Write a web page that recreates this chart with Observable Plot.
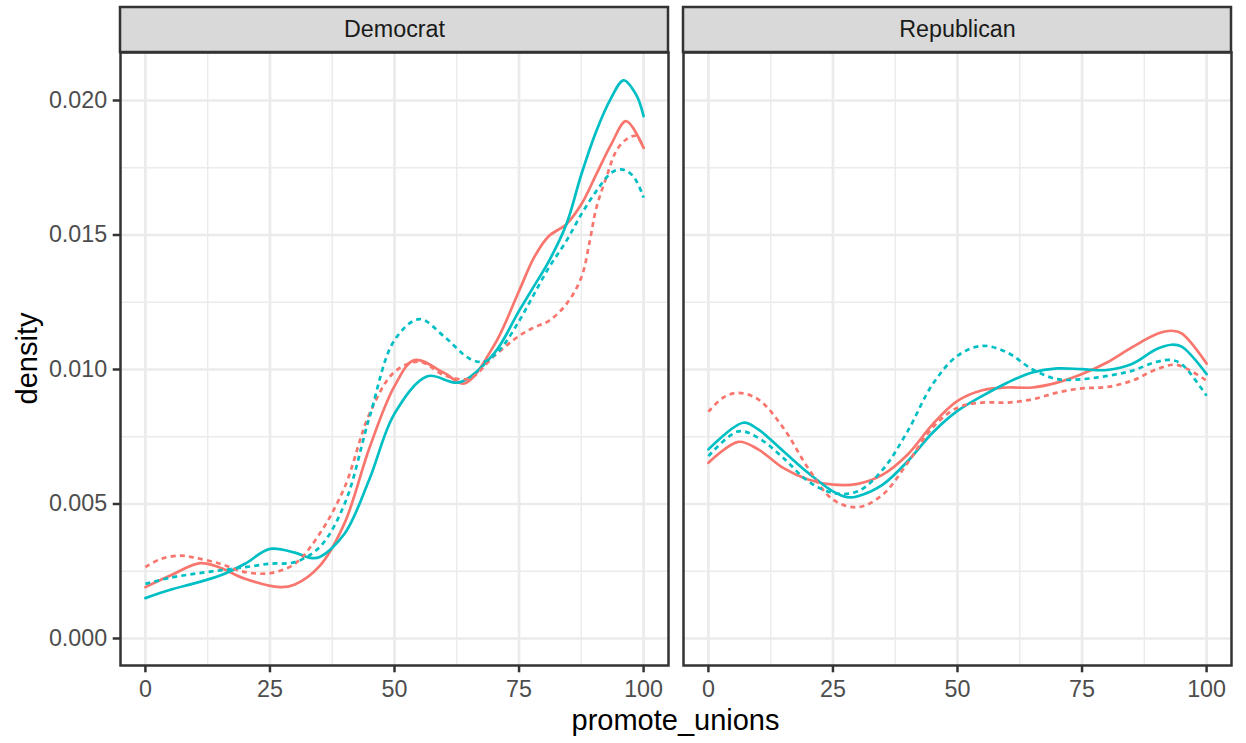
<!DOCTYPE html>
<html>
<head>
<meta charset="utf-8">
<script src="https://cdn.jsdelivr.net/npm/d3@7"></script>
<script src="https://cdn.jsdelivr.net/npm/@observablehq/plot@0.6"></script>
<style>
  html, body { margin: 0; padding: 0; background: #ffffff; overflow: hidden; }
</style>
</head>
<body>
<div id="chart"></div>
<script>
// ---------- data ----------
const parties = ["Democrat", "Republican"];
const colorGroups = ["group 1", "group 2"];
const lineTypes = ["solid", "dashed"];
const xTicks = [0, 25, 50, 75, 100];
const xMinorTicks = [12.5, 37.5, 62.5, 87.5];
const yTicks = [0, 0.005, 0.010, 0.015, 0.020];
const yMinorTicks = [0.0025, 0.0075, 0.0125, 0.0175];
const xTitle = "promote_unions";
const yTitle = "density";

// Democrat, group 1 (red), solid
const demRedSolidX = [0, 5, 11, 15, 20, 27, 30, 35, 40, 45, 50, 54, 60, 64, 70, 75, 78, 81, 84.5, 87.5, 90.5, 93.5, 96.5, 100];
const demRedSolidY = [0.00191, 0.00234, 0.00280, 0.00263, 0.00222, 0.00191, 0.00201, 0.00270, 0.00430, 0.00710, 0.00938, 0.01035, 0.00987, 0.00948, 0.01090, 0.01292, 0.01416, 0.01496, 0.01540, 0.01614, 0.01725, 0.01837, 0.01923, 0.01824];
// Democrat, group 2 (cyan), solid
const demCyanSolidX = [0, 5, 10, 15, 20, 25, 30, 33, 35, 40, 45, 50, 56.6, 63, 70, 75, 78, 81, 84.5, 87.5, 90.5, 93.5, 96, 98.5, 100];
const demCyanSolidY = [0.00150, 0.00181, 0.00206, 0.00234, 0.00278, 0.00333, 0.00319, 0.00300, 0.00303, 0.00390, 0.00594, 0.00836, 0.00975, 0.00952, 0.01060, 0.01218, 0.01310, 0.01403, 0.01540, 0.01725, 0.01886, 0.02010, 0.02075, 0.02022, 0.01942];
// Democrat, group 1 (red), dashed
const demRedDashX = [0, 3, 7, 10, 15, 20, 25, 30, 35, 40, 45, 50, 55, 60, 65, 70, 75, 78, 81, 84.5, 87.5, 89.2, 90.5, 92.5, 94.5, 96.5, 98.5, 100];
const demRedDashY = [0.00265, 0.00295, 0.00308, 0.00300, 0.00278, 0.00247, 0.00243, 0.00278, 0.00390, 0.00563, 0.00836, 0.00991, 0.01029, 0.00979, 0.00966, 0.01050, 0.01125, 0.01156, 0.01181, 0.01243, 0.01342, 0.01478, 0.01600, 0.01713, 0.01812, 0.01855, 0.01868, 0.01824];
// Democrat, group 2 (cyan), dashed
const demCyanDashX = [0, 5, 10, 15, 20, 25, 30, 35, 40, 45, 50, 55, 60, 65, 68, 71.2, 75, 78, 81, 84.5, 87.5, 90.5, 93.5, 95.5, 97.9, 100];
const demCyanDashY = [0.00203, 0.00226, 0.00241, 0.00253, 0.00265, 0.00278, 0.00284, 0.00340, 0.00501, 0.00824, 0.01109, 0.01187, 0.01122, 0.01041, 0.01029, 0.01075, 0.01180, 0.01280, 0.01379, 0.01478, 0.01577, 0.01663, 0.01731, 0.01744, 0.01719, 0.01639];

// Republican, group 1 (red), solid
const repRedSolidX = [0, 6, 10, 15, 20, 25, 30, 35, 40, 45, 50, 55, 60, 65, 70, 75, 80, 85, 90, 93, 95, 100];
const repRedSolidY = [0.00653, 0.00731, 0.00703, 0.00634, 0.00591, 0.00572, 0.00575, 0.00609, 0.00684, 0.00796, 0.00883, 0.00923, 0.00933, 0.00933, 0.00951, 0.00983, 0.01026, 0.01082, 0.01132, 0.01144, 0.01134, 0.01022];
// Republican, group 2 (cyan), solid
const repCyanSolidX = [0, 7, 10, 15, 20, 25, 28, 30, 35, 40, 45, 50, 55, 60, 65, 70, 75, 80, 85, 90, 93, 95, 100];
const repCyanSolidY = [0.00703, 0.00802, 0.00777, 0.00697, 0.00616, 0.00547, 0.00525, 0.00529, 0.00572, 0.00659, 0.00765, 0.00846, 0.00902, 0.00951, 0.00989, 0.01004, 0.01001, 0.00998, 0.01020, 0.01076, 0.01092, 0.01085, 0.00983];
// Republican, group 1 (red), dashed
const repRedDashX = [0, 3, 6, 10, 15, 20, 25, 30, 35, 40, 45, 50, 55, 60, 65, 70, 75, 80, 85, 90, 94, 100];
const repRedDashY = [0.00843, 0.00896, 0.00913, 0.00889, 0.00784, 0.00634, 0.00516, 0.00488, 0.00535, 0.00653, 0.00784, 0.00858, 0.00877, 0.00877, 0.00889, 0.00914, 0.00930, 0.00935, 0.00958, 0.01001, 0.01017, 0.00958];
// Republican, group 2 (cyan), dashed
const repCyanDashX = [0, 6, 10, 15, 20, 25, 30, 35, 40, 45, 50, 55, 60, 65, 70, 75, 80, 85, 90, 93, 95, 100];
const repCyanDashY = [0.00678, 0.00770, 0.00746, 0.00672, 0.00585, 0.00541, 0.00547, 0.00628, 0.00771, 0.00945, 0.01051, 0.01088, 0.01063, 0.01001, 0.00964, 0.00964, 0.00976, 0.00995, 0.01029, 0.01035, 0.01020, 0.00902];

const series = [
  { party: parties[0], group: colorGroups[0], type: lineTypes[0], x: demRedSolidX, y: demRedSolidY },
  { party: parties[0], group: colorGroups[1], type: lineTypes[0], x: demCyanSolidX, y: demCyanSolidY },
  { party: parties[0], group: colorGroups[0], type: lineTypes[1], x: demRedDashX, y: demRedDashY },
  { party: parties[0], group: colorGroups[1], type: lineTypes[1], x: demCyanDashX, y: demCyanDashY },
  { party: parties[1], group: colorGroups[0], type: lineTypes[0], x: repRedSolidX, y: repRedSolidY },
  { party: parties[1], group: colorGroups[1], type: lineTypes[0], x: repCyanSolidX, y: repCyanSolidY },
  { party: parties[1], group: colorGroups[0], type: lineTypes[1], x: repRedDashX, y: repRedDashY },
  { party: parties[1], group: colorGroups[1], type: lineTypes[1], x: repCyanDashX, y: repCyanDashY }
];
const rows = series.flatMap(s => s.x.map((x, i) => ({
  party: s.party, group: s.group, type: s.type,
  key: s.party + "|" + s.group + "|" + s.type,
  promote_unions: x, density: s.y[i]
})));

// ---------- layout ----------
const W = 1246, H = 743;
const mT = 52, mB = 78, mL = 120, mR = 15;
const xDomain = [-5, 105];
const yDomain = [-0.001004, 0.021784];
const pxPerY = (H - mT - mB) / (yDomain[1] - yDomain[0]);
const stripTop = yDomain[1] + 45 / pxPerY;   // strip is 45px tall above panel
const facetGap = 15;
const bandStep = ((W - mL - mR) + facetGap) / 2;
const grey20 = "#333333", grey30 = "#4D4D4D", grid = "#EBEBEB";
const lw = 2.7;
const smallFont = 23.3, titleFont = 29;

const chart = Plot.plot({
  width: W, height: H,
  marginTop: mT, marginBottom: mB, marginLeft: mL, marginRight: mR,
  style: { fontFamily: "'Liberation Sans', Arial, Helvetica, sans-serif", background: "#ffffff", overflow: "visible" },
  fx: { domain: parties, paddingInner: facetGap / bandStep, paddingOuter: 0, axis: null, label: null },
  x: { domain: xDomain, label: null },
  y: { domain: yDomain, label: null },
  color: { domain: colorGroups, range: ["#F8766D", "#00BFC4"] },
  marks: [
    Plot.gridX(xMinorTicks, { stroke: grid, strokeOpacity: 1, strokeWidth: 1.4 }),
    Plot.gridY(yMinorTicks, { stroke: grid, strokeOpacity: 1, strokeWidth: 1.4 }),
    Plot.gridX(xTicks, { stroke: grid, strokeOpacity: 1, strokeWidth: 2.7 }),
    Plot.gridY(yTicks, { stroke: grid, strokeOpacity: 1, strokeWidth: 2.7 }),
    Plot.line(rows.filter(d => d.type === "solid"), {
      fx: "party", x: "promote_unions", y: "density", z: "key", stroke: "group",
      strokeWidth: lw, curve: "catmull-rom"
    }),
    Plot.line(rows.filter(d => d.type === "dashed"), {
      fx: "party", x: "promote_unions", y: "density", z: "key", stroke: "group",
      strokeWidth: lw, strokeDasharray: "5,4.2", strokeLinecap: "butt", curve: "catmull-rom"
    }),
    Plot.frame({ stroke: grey20, strokeWidth: 2.5 }),
    Plot.rect(parties, {
      fx: d => d, x1: xDomain[0], x2: xDomain[1], y1: yDomain[1], y2: stripTop,
      fill: "#D9D9D9", stroke: grey20, strokeWidth: 2.5
    }),
    Plot.text(parties, {
      fx: d => d, x: (xDomain[0] + xDomain[1]) / 2, y: (yDomain[1] + stripTop) / 2,
      text: d => d, fontSize: smallFont, fill: "#1A1A1A"
    }),
    Plot.axisX(xTicks, {
      tickSize: 7.3, tickPadding: 8, fontSize: smallFont, stroke: grey20, strokeWidth: 2.5,
      fill: grey30, label: null
    }),
    Plot.axisY(yTicks, {
      tickSize: 7.3, tickPadding: 6, fontSize: smallFont, stroke: grey20, strokeWidth: 2.5,
      fill: grey30, tickFormat: ".3f", label: null
    })
  ]
});

const svg = d3.select(chart);
svg.append("text")
  .attr("x", (mL + W - mR) / 2)
  .attr("y", 730)
  .attr("text-anchor", "middle")
  .attr("font-size", titleFont)
  .attr("fill", "#000000")
  .text(xTitle);
svg.append("text")
  .attr("transform", `translate(37,${(mT + H - mB) / 2}) rotate(-90)`)
  .attr("text-anchor", "middle")
  .attr("font-size", titleFont)
  .attr("fill", "#000000")
  .text(yTitle);

document.getElementById("chart").appendChild(chart);
</script>
</body>
</html>
